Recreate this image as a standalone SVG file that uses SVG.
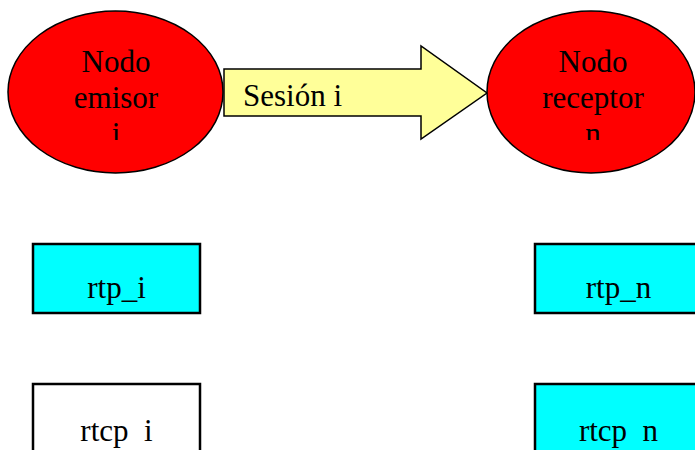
<svg xmlns="http://www.w3.org/2000/svg" width="695" height="450" viewBox="0 0 695 450">
<style>
.t{font-family:"Liberation Serif","Times New Roman",serif;font-size:31px;fill:#000;text-anchor:middle}
.el{fill:#FF0000;stroke:#000;stroke-width:1.5}
.bx{stroke:#000;stroke-width:2.5}
.gap{word-spacing:7.75px}
</style>
<defs>
<clipPath id="c1"><rect x="0" y="40" width="240" height="100"/></clipPath>
<clipPath id="c2"><rect x="470" y="40" width="225" height="100"/></clipPath>
</defs>
<g id="connectors">
<g id="sesion">
<polygon points="224,69 421,69 421,46 487,93 421,139 421,116 224,116" fill="#FFFF99" stroke="#000" stroke-width="1.5"/>
<text x="243" y="106" class="t" style="text-anchor:start">Sesión i</text>
</g>
</g>
<g id="emisor">
<ellipse cx="115.5" cy="92" rx="107.5" ry="81" class="el"/>
<g clip-path="url(#c1)">
<text class="t" x="116" y="72">Nodo</text>
<text class="t" x="116" y="108">emisor</text>
<text class="t" x="116" y="144">i</text>
</g>
</g>
<g id="receptor">
<ellipse cx="591" cy="92" rx="104" ry="81" class="el"/>
<g clip-path="url(#c2)">
<text class="t" x="593" y="72">Nodo</text>
<text class="t" x="593" y="108">receptor</text>
<text class="t" x="593" y="144">n</text>
</g>
</g>
<g id="rtp_i">
<rect x="33" y="244" width="167" height="69" fill="#00FFFF" class="bx"/>
<text class="t" x="116.5" y="298">rtp_i</text>
</g>
<g id="rtp_n">
<rect x="535" y="244" width="167" height="69" fill="#00FFFF" class="bx"/>
<text class="t" x="618.5" y="298">rtp_n</text>
</g>
<g id="rtcp_i">
<rect x="33" y="384" width="167" height="80" fill="#FFFFFF" class="bx"/>
<text class="t gap" x="116.5" y="441">rtcp i</text>
</g>
<g id="rtcp_n">
<rect x="535" y="384" width="167" height="80" fill="#00FFFF" class="bx"/>
<text class="t gap" x="618.5" y="441">rtcp n</text>
</g>
</svg>
